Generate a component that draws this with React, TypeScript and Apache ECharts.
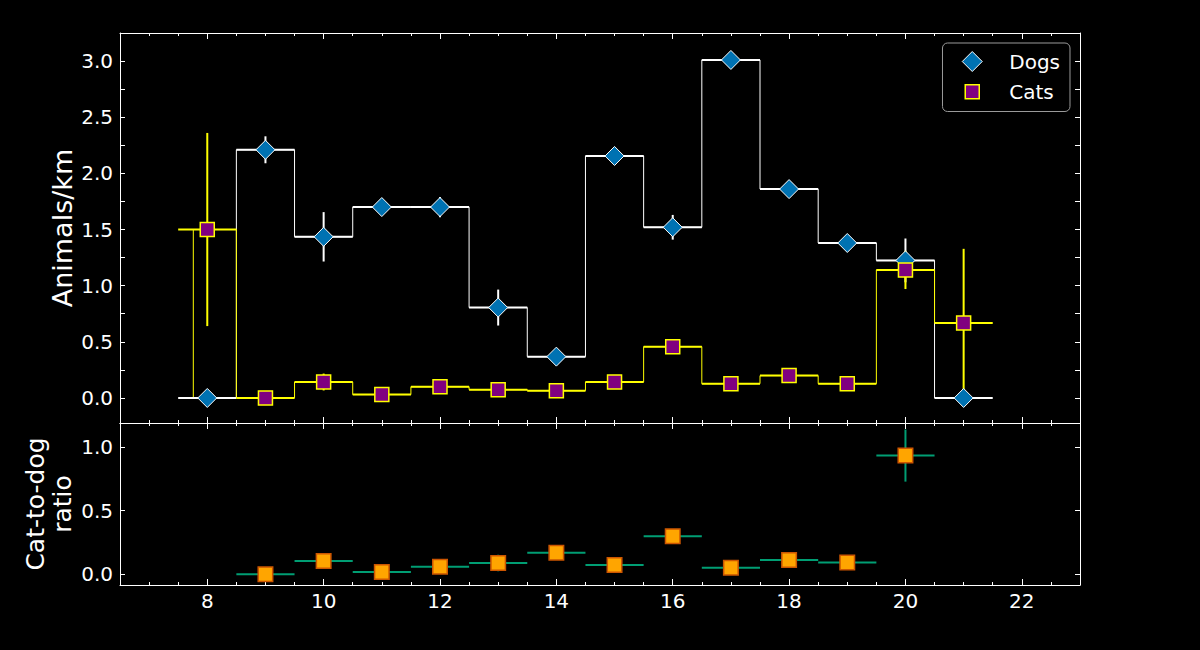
import React, { useEffect, useRef } from "react";
import * as echarts from "echarts";

// ---- data ----
const bins = [8, 9, 10, 11, 12, 13, 14, 15, 16, 17, 18, 19, 20, 21];
const dogs = [0, 2.21, 1.435, 1.7, 1.7, 0.805, 0.368, 2.155, 1.52, 3.01, 1.86, 1.38, 1.225, 0];
const dogErr = [0, 0.12, 0.22, 0.06, 0.09, 0.16, 0.05, 0.06, 0.11, 0.05, 0.05, 0.05, 0.195, 0];
const cats = [1.5, 0, 0.142, 0.03, 0.1, 0.074, 0.065, 0.142, 0.457, 0.127, 0.199, 0.127, 1.14, 0.668];
const catErr = [0.86, 0, 0.075, 0.02, 0.04, 0.03, 0.03, 0.04, 0.04, 0.03, 0.04, 0.03, 0.17, 0.66];
const catStepLeadIn = [7.52, 0];

const ratioBins = [9, 10, 11, 12, 13, 14, 15, 16, 17, 18, 19, 20];
const ratio = [0, 0.105, 0.018, 0.06, 0.089, 0.17, 0.073, 0.3, 0.052, 0.113, 0.092, 0.934];
const ratioErr = [0, 0.03, 0.01, 0.02, 0.065, 0.03, 0.02, 0.04, 0.02, 0.02, 0.02, 0.205];

const binHalfWidth = 0.5;

const xMajorTicks = [8, 10, 12, 14, 16, 18, 20, 22];
const xMinorTicks = [7, 7.5, 8, 8.5, 9, 9.5, 10, 10.5, 11, 11.5, 12, 12.5, 13, 13.5, 14, 14.5, 15, 15.5, 16, 16.5, 17, 17.5, 18, 18.5, 19, 19.5, 20, 20.5, 21, 21.5, 22, 22.5];
const topYTicks = [0, 0.25, 0.5, 0.75, 1.0, 1.25, 1.5, 1.75, 2.0, 2.25, 2.5, 2.75, 3.0];
const topYLabels = [0, 0.5, 1.0, 1.5, 2.0, 2.5, 3.0];
const ratioYTicks = [0, 0.5, 1.0];

const X_MIN = 6.5;
const X_MAX = 23;
const TOP_Y_MIN = -0.223;
const TOP_Y_MAX = 3.25;
const BOT_Y_MIN = -0.084;
const BOT_Y_MAX = 1.19;

const FONT = "DejaVu Sans";

function errRender(color: string) {
  return (params: any, api: any) => {
    const x = api.value(0);
    const y = api.value(1);
    const e = api.value(2);
    const l = api.coord([x - binHalfWidth, y]);
    const r = api.coord([x + binHalfWidth, y]);
    const children: any[] = [
      { type: "line", shape: { x1: l[0], y1: l[1], x2: r[0], y2: r[1] }, style: { stroke: color, lineWidth: 2 } },
    ];
    if (e > 0) {
      const t = api.coord([x, y + e]);
      const b = api.coord([x, y - e]);
      children.push({ type: "line", shape: { x1: t[0], y1: t[1], x2: b[0], y2: b[1] }, style: { stroke: color, lineWidth: 2 } });
    }
    return { type: "group", children };
  };
}

function xAxis(grid: number, position: string, ticks: number[], len: number, showLine: boolean, labels: boolean) {
  return {
    type: "value",
    gridIndex: grid,
    position,
    min: X_MIN,
    max: X_MAX,
    axisLine: { show: showLine, onZero: false, lineStyle: { color: "#fff", width: 1 } },
    axisTick: { show: true, inside: true, length: len, customValues: ticks, lineStyle: { color: "#fff", width: 1 } },
    axisLabel: labels
      ? { show: true, customValues: xMajorTicks, color: "#fff", fontSize: 20, fontFamily: FONT, margin: 6, formatter: (v: number) => String(v) }
      : { show: false },
    splitLine: { show: false },
  };
}

function yAxis(grid: number, position: string, min: number, max: number, ticks: number[], labels: number[] | null, name?: string, nameStyle?: any, nameGap?: number) {
  return {
    type: "value",
    gridIndex: grid,
    position,
    min,
    max,
    name: name || "",
    nameLocation: "middle",
    nameRotate: 90,
    nameGap: nameGap || 40,
    nameMoveOverlap: false,
    nameTextStyle: nameStyle || {},
    axisLine: { show: true, onZero: false, lineStyle: { color: "#fff", width: 1 } },
    axisTick: { show: true, inside: true, length: 5, customValues: ticks, lineStyle: { color: "#fff", width: 1 } },
    axisLabel: labels
      ? { show: true, customValues: labels, color: "#fff", fontSize: 20, fontFamily: FONT, margin: 7, formatter: (v: number) => v.toFixed(1) }
      : { show: false },
    splitLine: { show: false },
  };
}

export default function App() {
  const ref = useRef<HTMLDivElement>(null);

  useEffect(() => {
    document.body.style.margin = "0";
    document.body.style.background = "#000";
    const chart = echarts.init(ref.current!, null, { renderer: "svg" });

    const dogSteps = bins.map((b, i) => [b, dogs[i]]);
    const catSteps = [catStepLeadIn, ...bins.map((b, i) => [b, cats[i]])];
    const dogErrData = bins.map((b, i) => [b, dogs[i], dogErr[i]]);
    const catErrData = bins.map((b, i) => [b, cats[i], catErr[i]]);
    const ratioData = ratioBins.map((b, i) => [b, ratio[i]]);
    const ratioErrData = ratioBins.map((b, i) => [b, ratio[i], ratioErr[i]]);

    const dogStyle = { color: "#0072B2", borderColor: "#ffffff", borderWidth: 1, opacity: 1 };
    const catStyle = { color: "#800080", borderColor: "#FFFF00", borderWidth: 1.5, opacity: 1 };

    chart.setOption({
      animation: false,
      backgroundColor: "#000",
      textStyle: { fontFamily: FONT },
      grid: [
        { left: 120, top: 33, width: 960, height: 390, outerBoundsMode: "none", containLabel: false },
        { left: 120, top: 423, width: 960, height: 162, outerBoundsMode: "none", containLabel: false },
      ],
      xAxis: [
        xAxis(0, "bottom", xMinorTicks, 3, true, false),
        xAxis(0, "bottom", xMajorTicks, 6, false, false),
        xAxis(0, "top", xMinorTicks, 3, true, false),
        xAxis(0, "top", xMajorTicks, 6, false, false),
        xAxis(1, "bottom", xMinorTicks, 3, true, true),
        xAxis(1, "bottom", xMajorTicks, 6, false, false),
        xAxis(1, "top", xMinorTicks, 3, true, false),
        xAxis(1, "top", xMajorTicks, 6, false, false),
      ],
      yAxis: [
        yAxis(0, "left", TOP_Y_MIN, TOP_Y_MAX, topYTicks, topYLabels, "Animals/km", { color: "#fff", fontSize: 27, fontFamily: FONT }, 44),
        yAxis(0, "right", TOP_Y_MIN, TOP_Y_MAX, topYTicks, null),
        yAxis(1, "left", BOT_Y_MIN, BOT_Y_MAX, ratioYTicks, ratioYTicks, "Cat-to-dog\nratio", { color: "#fff", fontSize: 25, lineHeight: 27, fontFamily: FONT }, 44),
        yAxis(1, "right", BOT_Y_MIN, BOT_Y_MAX, ratioYTicks, null),
      ],
      legend: {
        orient: "vertical",
        right: 130,
        top: 43,
        data: [
          { name: "Dogs", icon: "diamond", itemStyle: dogStyle },
          { name: "Cats", icon: "path://M0,0M20,20M3,3L17,3L17,17L3,17Z", itemStyle: catStyle },
        ],
        itemWidth: 20,
        itemHeight: 20,
        itemGap: 9,
        padding: [8, 10, 9, 19],
        backgroundColor: "rgba(0,0,0,0.8)",
        borderColor: "#9a9a9a",
        borderWidth: 1,
        borderRadius: 5,
        selectedMode: false,
        textStyle: { color: "#fff", fontSize: 20, fontFamily: FONT, padding: [0, 0, 0, 22] },
      },
      series: [
        {
          name: "Dogs step", type: "line", step: "middle", data: dogSteps, xAxisIndex: 0, yAxisIndex: 0,
          symbol: "none", lineStyle: { color: "#ffffff", width: 1 }, z: 1,
        },
        {
          name: "Cats step", type: "line", step: "middle", data: catSteps, xAxisIndex: 0, yAxisIndex: 0,
          symbol: "none", lineStyle: { color: "#FFFF00", width: 1 }, z: 1,
        },
        { name: "Dogs err", type: "custom", renderItem: errRender("#ffffff"), data: dogErrData, xAxisIndex: 0, yAxisIndex: 0, z: 2 },
        { name: "Cats err", type: "custom", renderItem: errRender("#FFFF00"), data: catErrData, xAxisIndex: 0, yAxisIndex: 0, z: 2 },
        {
          name: "Dogs", type: "scatter", data: dogSteps, xAxisIndex: 0, yAxisIndex: 0,
          symbol: "diamond", symbolSize: 19, itemStyle: dogStyle, z: 3,
        },
        {
          name: "Cats", type: "scatter", data: bins.map((b, i) => [b, cats[i]]), xAxisIndex: 0, yAxisIndex: 0,
          symbol: "rect", symbolSize: 14, itemStyle: catStyle, z: 4,
        },
        { name: "Ratio err", type: "custom", renderItem: errRender("#009E73"), data: ratioErrData, xAxisIndex: 4, yAxisIndex: 2, z: 2 },
        {
          name: "Ratio", type: "scatter", data: ratioData, xAxisIndex: 4, yAxisIndex: 2,
          symbol: "rect", symbolSize: 14.5, itemStyle: { color: "#FFA500", borderColor: "#CC5500", borderWidth: 1.5, opacity: 1 }, z: 3,
        },
      ],
    });

    return () => chart.dispose();
  }, []);

  return <div ref={ref} style={{ width: 1200, height: 650, background: "#000" }} />;
}
